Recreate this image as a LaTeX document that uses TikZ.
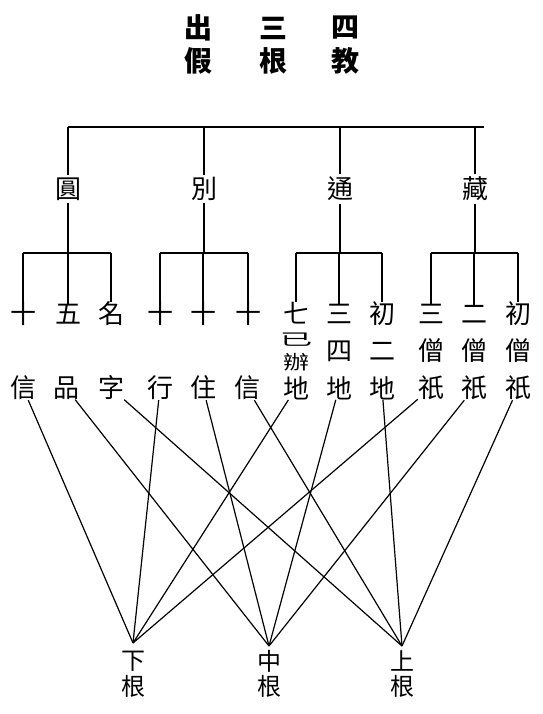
\documentclass[tikz,border=0pt]{standalone}
\usepackage{fontspec}
\usepackage{graphicx}
\newfontfamily\cjk{Noto Sans CJK TC}
\begin{document}
\begin{tikzpicture}[x=1pt,y=-1pt,
  every node/.style={inner sep=0pt},
  heading/.style={font=\cjk\bfseries\fontsize{28}{28}\selectfont},
  teaching/.style={font=\cjk\fontsize{26}{26}\selectfont, inner sep=2.5pt},
  stage/.style={font=\cjk\fontsize{26}{26}\selectfont, inner sep=0pt},
  faculty/.style={font=\cjk\fontsize{24}{24}\selectfont, inner sep=0pt},
  tree/.style={line width=1.4pt},
  link/.style={line width=1.2pt}]
\useasboundingbox (0,0) rectangle (542,714);

% heading
\node[heading] (h1) at (198,28) {出};
\node[heading] (h2) at (273,28) {三};
\node[heading] (h3) at (345,28) {四};
\node[heading] (h4) at (198,61) {假};
\node[heading] (h5) at (273,61) {根};
\node[heading] (h6) at (345,61) {教};

% four teachings
\coordinate (barL) at (68,127);
\coordinate (barR) at (484,127);
\node[teaching] (yuan) at (68,189) {圓};
\node[teaching] (bie)  at (204,189) {別};
\node[teaching] (tong) at (340,189) {通};
\node[teaching] (zang) at (475,189) {藏};
\draw[tree] (barL) -- (barR);
\foreach \t in {yuan,bie,tong,zang}
  \draw[tree] (\t.north) -- (\t.north |- barL);

% stages, three rows
\coordinate (sub) at (0,253);
\node[stage] (a1)  at (23,314)  {十};
\node[stage] (a2)  at (68,314)  {五};
\node[stage] (a3)  at (111,314) {名};
\node[stage] (a4)  at (160,314) {十};
\node[stage] (a5)  at (203,314) {十};
\node[stage] (a6)  at (248,314) {十};
\node[stage] (a7)  at (296,313) {七};
\node[stage] (a8)  at (339,314) {三};
\node[stage] (a9)  at (382,314) {初};
\node[stage] (a10) at (431,314) {三};
\node[stage] (a11) at (474,314) {二};
\node[stage] (a12) at (518,314) {初};

\node[stage] (m7a) at (296,340) {\scalebox{1.25}[0.62]{已}};
\node[stage] (m7b) at (296,362) {\scalebox{1}[0.74]{辦}};
\node[stage] (m8)  at (339,351) {四};
\node[stage] (m9)  at (382,351) {二};
\node[stage] (m10) at (431,351) {僧};
\node[stage] (m11) at (474,351) {僧};
\node[stage] (m12) at (518,351) {僧};

\node[stage] (b1)  at (23,388)  {信};
\node[stage] (b2)  at (66,388)  {品};
\node[stage] (b3)  at (111,388) {字};
\node[stage] (b4)  at (160,388) {行};
\node[stage] (b5)  at (203,388) {住};
\node[stage] (b6)  at (247,388) {信};
\node[stage] (b7)  at (296,388) {地};
\node[stage] (b8)  at (339,388) {地};
\node[stage] (b9)  at (382,388) {地};
\node[stage] (b10) at (431,388) {祇};
\node[stage] (b11) at (474,388) {祇};
\node[stage] (b12) at (518,388) {祇};

% brackets under each teaching
\foreach \t/\l/\m/\r in {yuan/a1/a2/a3, bie/a4/a5/a6, tong/a7/a8/a9, zang/a10/a11/a12}{
  \draw[tree] (\t.south) -- (\t.south |- sub);
  \draw[tree] (\l |- sub) -- (\r |- sub);
  \foreach \c in {\l,\m,\r}
    \draw[tree] (\c |- sub) -- (\c.north);
}

% three faculties
\node[faculty] (xia)   at (133,661) {下};
\node[faculty] (zhong) at (269,661) {中};
\node[faculty] (shang) at (402,661) {上};
\node[faculty] (g1) at (133,686) {根};
\node[faculty] (g2) at (269,686) {根};
\node[faculty] (g3) at (402,686) {根};
\coordinate (tipL) at (133,643);
\coordinate (tipM) at (269,646);
\coordinate (tipR) at (402,646);

% links from stages to faculties
\foreach \s/\f in {b1/tipL, b2/tipM, b3/tipR,
                   b4/tipL, b5/tipM, b6/tipR,
                   b7/tipL, b8/tipM, b9/tipR,
                   b10/tipL, b11/tipM, b12/tipR}
  \draw[link] (\s) -- (\f);
\end{tikzpicture}
\end{document}
